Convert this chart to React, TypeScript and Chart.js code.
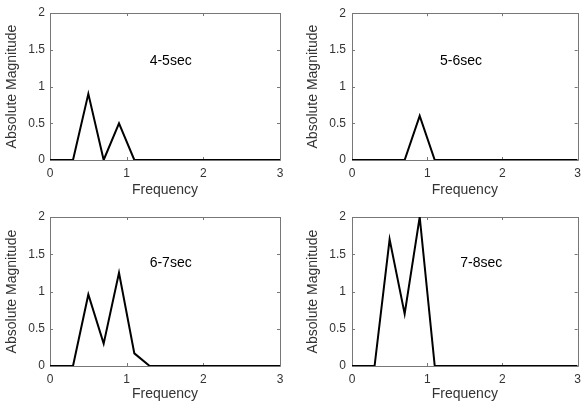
import React, { useEffect, useRef } from "react";
import { Chart, registerables } from "chart.js";

Chart.register(...registerables);

// ---- data ----
const FREQ = [0, 0.3, 0.5, 0.7, 0.9, 1.1, 1.3, 3];
const MAG_4_5 = [0, 0, 0.9, 0, 0.5, 0, 0, 0];
const MAG_5_6 = [0, 0, 0, 0, 0.6, 0, 0, 0];
const MAG_6_7 = [0, 0, 0.96, 0.3, 1.25, 0.17, 0, 0];
const MAG_7_8 = [0, 0, 1.7, 0.7, 2.0, 0, 0, 0];

const PANEL_LABELS = ["4-5sec", "5-6sec", "6-7sec", "7-8sec"];
const LABEL_X = [1.3, 1.17, 1.3, 1.44];
const LABEL_Y = [1.35, 1.35, 1.38, 1.38];

const X_TICKS = [0, 1, 2, 3];
const Y_TICKS = [0, 0.5, 1, 1.5, 2];

const X_TITLE = "Frequency";
const Y_TITLE = "Absolute Magnitude";

const SERIES = [MAG_4_5, MAG_5_6, MAG_6_7, MAG_7_8];

// ---- layout ----
const PANELS = [
  { left: 0, top: 0, w: 293, h: 200, yW: 50, xH: 40, padTop: 13, padRight: 13, yTitlePad: 4, xTitlePad: 1 },
  { left: 293, top: 0, w: 294, h: 200, yW: 59, xH: 40, padTop: 13, padRight: 6, yTitlePad: 12, xTitlePad: 1 },
  { left: 0, top: 200, w: 293, h: 203, yW: 50, xH: 37, padTop: 17, padRight: 13, yTitlePad: 4, xTitlePad: 0 },
  { left: 293, top: 200, w: 294, h: 203, yW: 59, xH: 37, padTop: 17, padRight: 6, yTitlePad: 12, xTitlePad: 0 },
];

const FONT = "'Liberation Sans', Arial, sans-serif";
const TEXT_COLOR = "#333333";
const BOX_COLOR = "#777777";

const boxPlugin = {
  id: "matlabBox",
  beforeDatasetsDraw(chart: any) {
    const { ctx, chartArea } = chart;
    const xs = chart.scales.x;
    const ys = chart.scales.y;
    const { left, right, top, bottom } = chartArea;
    ctx.save();
    ctx.strokeStyle = BOX_COLOR;
    ctx.lineWidth = 1;
    ctx.beginPath();
    ctx.rect(Math.round(left) + 0.5, Math.round(top) + 0.5, Math.round(right - left), Math.round(bottom - top));
    ctx.stroke();
    const tl = 3;
    ctx.beginPath();
    X_TICKS.forEach((v) => {
      const px = Math.round(xs.getPixelForValue(v)) + 0.5;
      ctx.moveTo(px, bottom);
      ctx.lineTo(px, bottom - tl);
      ctx.moveTo(px, top);
      ctx.lineTo(px, top + tl);
    });
    Y_TICKS.forEach((v) => {
      const py = Math.round(ys.getPixelForValue(v)) + 0.5;
      ctx.moveTo(left, py);
      ctx.lineTo(left + tl, py);
      ctx.moveTo(right, py);
      ctx.lineTo(right - tl, py);
    });
    ctx.stroke();
    ctx.restore();
  },
  afterDatasetsDraw(chart: any, _args: any, opts: any) {
    const { ctx } = chart;
    const xs = chart.scales.x;
    const ys = chart.scales.y;
    ctx.save();
    ctx.fillStyle = "#000000";
    ctx.font = `14px ${FONT}`;
    ctx.textAlign = "left";
    ctx.textBaseline = "middle";
    ctx.fillText(opts.text, xs.getPixelForValue(opts.x), ys.getPixelForValue(opts.y));
    ctx.restore();
  },
};

function Panel({ idx }: { idx: number }) {
  const ref = useRef<HTMLCanvasElement | null>(null);
  const p = PANELS[idx];
  useEffect(() => {
    if (!ref.current) return;
    const values = SERIES[idx];
    const chart = new Chart(ref.current, {
      type: "scatter",
      data: {
        datasets: [
          {
            data: FREQ.map((f, i) => ({ x: f, y: values[i] })),
            showLine: true,
            borderColor: "#000000",
            borderWidth: 2,
            pointRadius: 0,
            pointHoverRadius: 0,
            tension: 0,
          },
        ],
      },
      options: {
        animation: false,
        responsive: false,
        events: [],
        layout: { padding: { left: 0, right: p.padRight, top: p.padTop, bottom: 0 } },
        plugins: {
          legend: { display: false },
          tooltip: { enabled: false },
          matlabBox: { text: PANEL_LABELS[idx], x: LABEL_X[idx], y: LABEL_Y[idx] },
        } as any,
        scales: {
          x: {
            type: "linear",
            min: 0,
            max: 3,
            afterBuildTicks: (s: any) => {
              s.ticks = X_TICKS.map((v) => ({ value: v }));
            },
            afterFit: (s: any) => {
              s.height = p.xH;
            },
            grid: { display: false, drawTicks: false },
            border: { display: false },
            ticks: {
              padding: 6,
              color: TEXT_COLOR,
              font: { family: FONT, size: 12 },
              callback: (v: any) => String(v),
              maxRotation: 0,
            },
            title: {
              display: true,
              text: X_TITLE,
              color: TEXT_COLOR,
              font: { family: FONT, size: 14 },
              padding: { top: 0, bottom: p.xTitlePad },
            },
          },
          y: {
            type: "linear",
            min: 0,
            max: 2,
            afterBuildTicks: (s: any) => {
              s.ticks = Y_TICKS.map((v) => ({ value: v }));
            },
            afterFit: (s: any) => {
              s.width = p.yW;
            },
            grid: { display: false, drawTicks: false },
            border: { display: false },
            ticks: {
              padding: idx % 2 === 0 ? 5 : 6,
              color: TEXT_COLOR,
              font: { family: FONT, size: 12 },
              callback: (v: any) => String(v),
            },
            title: {
              display: true,
              text: Y_TITLE,
              color: TEXT_COLOR,
              font: { family: FONT, size: 14 },
              padding: { top: p.yTitlePad, bottom: 0 },
            },
          },
        },
      },
      plugins: [boxPlugin],
    });
    return () => chart.destroy();
  }, [idx]);
  return (
    <canvas
      ref={ref}
      width={p.w}
      height={p.h}
      style={{ position: "absolute", left: p.left, top: p.top, width: p.w, height: p.h }}
    />
  );
}

export default function App() {
  return (
    <div style={{ position: "fixed", left: 0, top: 0, width: 587, height: 403, background: "#ffffff", overflow: "hidden" }}>
      {PANELS.map((_, i) => (
        <Panel key={i} idx={i} />
      ))}
    </div>
  );
}
